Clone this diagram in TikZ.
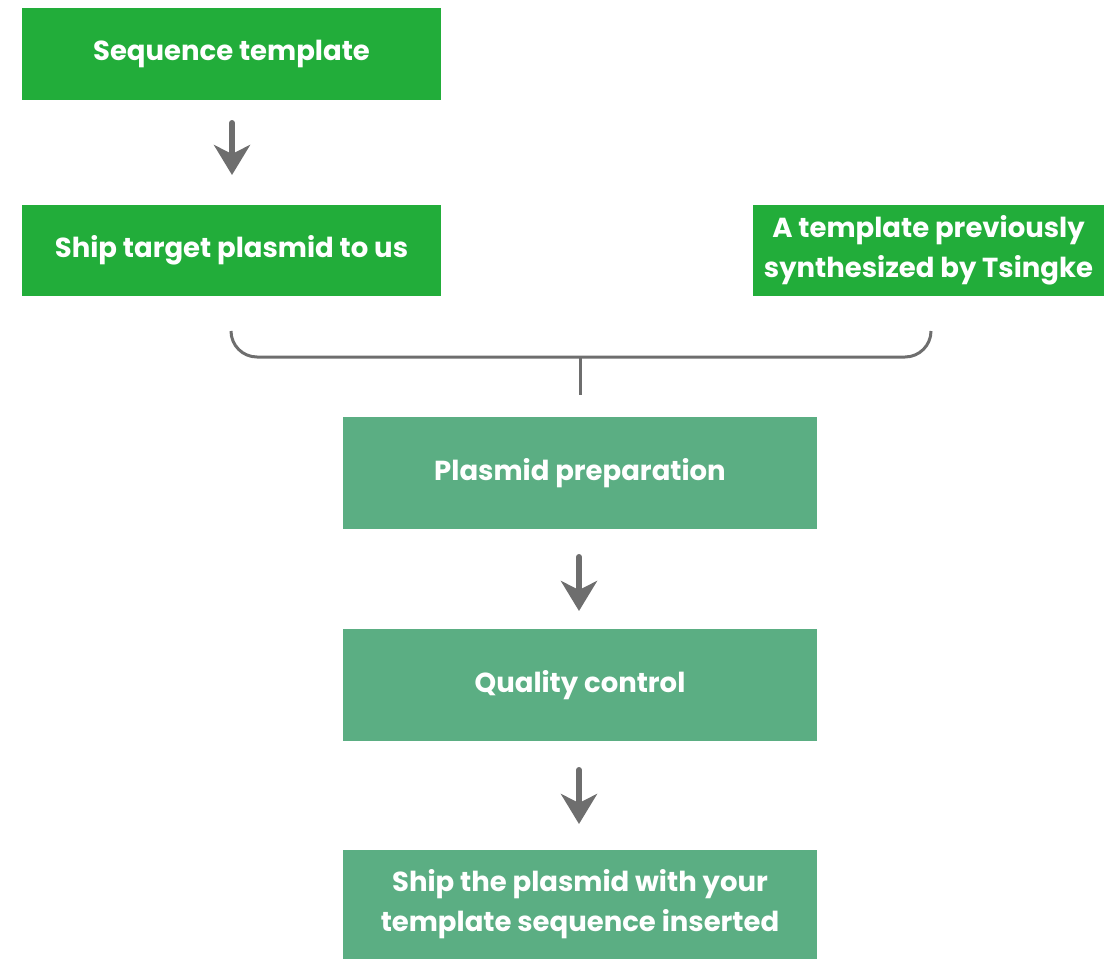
\documentclass[tikz,border=0pt]{standalone}
\usepackage{fontspec}
\setmainfont{Poppins}
\usetikzlibrary{arrows.meta}
\definecolor{brightgreen}{HTML}{22AD3A}
\definecolor{softgreen}{HTML}{5BAE83}
\definecolor{arrowgray}{HTML}{6E6E6E}
\begin{document}
\begin{tikzpicture}[x=1pt,y=-1pt,
  box/.style={draw=none, inner sep=0pt, align=center, text=white,
    font=\fontsize{27.5}{40}\selectfont\bfseries},
  topbox/.style={box, fill=brightgreen},
  lowbox/.style={box, fill=softgreen},
  flowarrow/.style={draw=arrowgray, line width=6pt, line cap=round,
    -{Stealth[length=30pt, width=36pt, inset=9pt]}},
  bracket/.style={draw=arrowgray, line width=3pt, rounded corners=26pt}]
\useasboundingbox (0,0) rectangle (1106,959);
\node[topbox, minimum width=419pt, minimum height=92pt] (seq) at (231.5,54) {Sequence template};
\node[topbox, minimum width=419pt, minimum height=91pt] (ship) at (231.5,250.5) {Ship target plasmid to us};
\node[topbox, minimum width=351pt, minimum height=91pt] (prev) at (928.5,250.5) {A template previously\\synthesized by Tsingke};
\node[lowbox, minimum width=474pt, minimum height=112pt] (prep) at (580,473) {Plasmid preparation};
\node[lowbox, minimum width=474pt, minimum height=112pt] (qc) at (580,685) {Quality control};
\node[lowbox, minimum width=474pt, minimum height=109pt] (final) at (580,904.5) {Ship the plasmid with your\\template sequence inserted};
\coordinate (a1s) at (232,123);
\coordinate (a1e) at (232,175);
\draw[flowarrow] (a1s) -- (a1e);
\coordinate (bl) at (231,331);
\coordinate (br) at (931,331);
\coordinate (bm) at (580,357);
\coordinate (stem) at (580,395);
\draw[bracket] (bl) |- (bm) -| (br);
\draw[draw=arrowgray, line width=3pt] (bm) -- (stem);
\coordinate (a2s) at (579,557);
\coordinate (a2e) at (579,611);
\coordinate (a3s) at (579,770);
\coordinate (a3e) at (579,824);
\draw[flowarrow] (a2s) -- (a2e);
\draw[flowarrow] (a3s) -- (a3e);
\end{tikzpicture}
\end{document}
